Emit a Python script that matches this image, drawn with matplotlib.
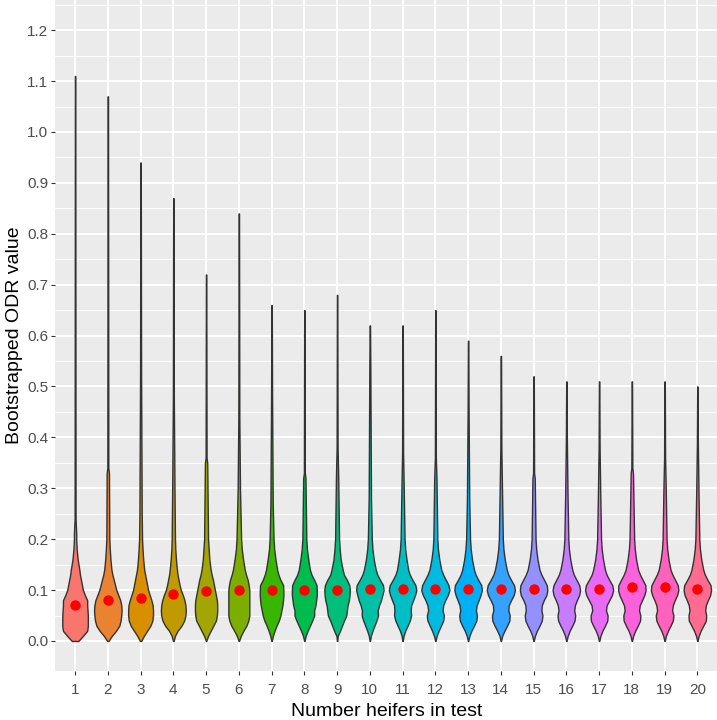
import numpy as np
import matplotlib
matplotlib.use("Agg")
import matplotlib.pyplot as plt

# Data
GROUPS = list(range(1, 21))
LEVELS = [0.00, 0.01, 0.02, 0.03, 0.04, 0.05, 0.06, 0.07, 0.08, 0.09,
          0.10, 0.11, 0.12, 0.13, 0.14, 0.16, 0.18, 0.20]

# violin half-widths (x units) at each LEVEL, one row per group
HALF_WIDTHS = [
    [0.10, 0.24, 0.37, 0.39, 0.39, 0.39, 0.38, 0.37, 0.37, 0.30, 0.24, 0.21, 0.18, 0.15, 0.13, 0.08, 0.05, 0.035],
    [0.02, 0.12, 0.25, 0.35, 0.39, 0.41, 0.42, 0.41, 0.38, 0.32, 0.26, 0.22, 0.18, 0.14, 0.11, 0.08, 0.06, 0.045],
    [0.02, 0.10, 0.20, 0.30, 0.36, 0.38, 0.38, 0.37, 0.33, 0.28, 0.23, 0.20, 0.17, 0.14, 0.11, 0.08, 0.06, 0.045],
    [0.01, 0.05, 0.13, 0.25, 0.33, 0.37, 0.38, 0.37, 0.34, 0.29, 0.23, 0.19, 0.16, 0.13, 0.11, 0.08, 0.06, 0.05],
    [0.005, 0.06, 0.14, 0.22, 0.30, 0.33, 0.34, 0.34, 0.33, 0.30, 0.27, 0.24, 0.21, 0.17, 0.14, 0.10, 0.08, 0.06],
    [0.005, 0.06, 0.14, 0.23, 0.29, 0.32, 0.32, 0.32, 0.32, 0.32, 0.32, 0.30, 0.27, 0.22, 0.18, 0.13, 0.09, 0.07],
    [0.005, 0.04, 0.09, 0.15, 0.22, 0.27, 0.30, 0.33, 0.35, 0.36, 0.36, 0.35, 0.27, 0.21, 0.17, 0.12, 0.08, 0.06],
    [0.005, 0.04, 0.10, 0.17, 0.24, 0.30, 0.30, 0.34, 0.36, 0.38, 0.38, 0.37, 0.30, 0.22, 0.17, 0.12, 0.08, 0.06],
    [0.005, 0.02, 0.09, 0.15, 0.21, 0.28, 0.30, 0.32, 0.36, 0.38, 0.39, 0.37, 0.30, 0.21, 0.17, 0.11, 0.08, 0.06],
    [0.005, 0.03, 0.08, 0.14, 0.20, 0.25, 0.24, 0.28, 0.34, 0.38, 0.42, 0.40, 0.31, 0.23, 0.18, 0.12, 0.08, 0.06],
    [0.005, 0.03, 0.08, 0.15, 0.22, 0.26, 0.25, 0.26, 0.32, 0.38, 0.42, 0.39, 0.30, 0.22, 0.17, 0.12, 0.08, 0.06],
    [0.005, 0.04, 0.10, 0.17, 0.24, 0.26, 0.22, 0.24, 0.30, 0.38, 0.43, 0.40, 0.32, 0.24, 0.18, 0.12, 0.08, 0.06],
    [0.005, 0.04, 0.10, 0.18, 0.25, 0.27, 0.24, 0.26, 0.32, 0.38, 0.42, 0.40, 0.31, 0.23, 0.18, 0.12, 0.08, 0.06],
    [0.005, 0.04, 0.11, 0.19, 0.26, 0.27, 0.23, 0.24, 0.31, 0.39, 0.43, 0.40, 0.31, 0.23, 0.18, 0.12, 0.08, 0.06],
    [0.005, 0.04, 0.10, 0.18, 0.25, 0.27, 0.24, 0.25, 0.31, 0.39, 0.42, 0.40, 0.32, 0.24, 0.18, 0.12, 0.08, 0.06],
    [0.005, 0.04, 0.10, 0.18, 0.25, 0.27, 0.24, 0.26, 0.32, 0.39, 0.42, 0.39, 0.31, 0.23, 0.18, 0.12, 0.08, 0.06],
    [0.005, 0.04, 0.10, 0.18, 0.25, 0.26, 0.21, 0.23, 0.31, 0.39, 0.43, 0.40, 0.31, 0.23, 0.18, 0.12, 0.08, 0.06],
    [0.005, 0.04, 0.10, 0.18, 0.25, 0.26, 0.22, 0.24, 0.31, 0.38, 0.42, 0.41, 0.33, 0.25, 0.19, 0.13, 0.09, 0.07],
    [0.005, 0.04, 0.10, 0.18, 0.25, 0.27, 0.23, 0.25, 0.31, 0.38, 0.42, 0.40, 0.32, 0.24, 0.18, 0.12, 0.08, 0.06],
    [0.005, 0.04, 0.10, 0.18, 0.26, 0.27, 0.24, 0.26, 0.32, 0.39, 0.42, 0.40, 0.31, 0.23, 0.18, 0.12, 0.08, 0.06],
]
# where the filled part ends, where the thicker tail ends, and the maximum value
COLOR_TOP = [0.21, 0.33, 0.25, 0.30, 0.35, 0.30, 0.27, 0.32, 0.32, 0.28,
             0.30, 0.32, 0.28, 0.30, 0.32, 0.29, 0.29, 0.33, 0.30, 0.29]
THICK_TOP = [0.24, 0.34, 0.53, 0.48, 0.36, 0.44, 0.48, 0.33, 0.38, 0.54,
             0.37, 0.36, 0.45, 0.38, 0.33, 0.40, 0.38, 0.34, 0.36, 0.39]
TAIL_TOP = [1.11, 1.07, 0.94, 0.87, 0.72, 0.84, 0.66, 0.65, 0.68, 0.62,
            0.62, 0.65, 0.59, 0.56, 0.52, 0.51, 0.51, 0.51, 0.51, 0.50]
MEANS = [0.071, 0.080, 0.085, 0.092, 0.098, 0.101, 0.101, 0.101, 0.101, 0.103,
         0.103, 0.103, 0.103, 0.103, 0.103, 0.103, 0.103, 0.106, 0.106, 0.103]

# ggplot2 default hue palette for 20 levels
COLORS = ["#F8766D", "#EA8331", "#D89000", "#C09B00", "#A3A500", "#7CAE00",
          "#39B600", "#00BB4E", "#00BF7D", "#00C1A3", "#00BFC4", "#00BAE0",
          "#00B0F6", "#35A2FF", "#9590FF", "#C77CFF", "#E76BF3", "#FA62DB",
          "#FF62BC", "#FF6C90"]

plt.rcParams['font.family'] = ['Liberation Sans', 'DejaVu Sans']

fig = plt.figure(figsize=(7.17, 7.2), dpi=100)
ax = fig.add_axes([0.0773, 0.0681, 0.9227, 0.9319])
ax.set_facecolor('#EBEBEB')

# grid
for v in np.arange(0.05, 1.26, 0.1):
    ax.axhline(v, color='white', lw=0.7, zorder=0)
for v in np.arange(0.0, 1.21, 0.1):
    ax.axhline(v, color='white', lw=1.4, zorder=0)
for g in GROUPS:
    ax.axvline(g, color='white', lw=1.4, zorder=0)

tail_w = [0.035, 0.015, 0.006]
for i, g in enumerate(GROUPS):
    ys = np.array(LEVELS + [COLOR_TOP[i], THICK_TOP[i], TAIL_TOP[i]])
    ws = np.array(HALF_WIDTHS[i] + tail_w)
    ax.fill_betweenx(ys, g - ws, g + ws, facecolor=COLORS[i],
                     edgecolor='#333333', lw=1.0, zorder=2)

ax.plot(GROUPS, MEANS, 'o', color='red', markersize=7.5, zorder=3,
        markeredgewidth=0)

ax.set_xlim(0.4, 20.6)
ax.set_ylim(-0.0589, 1.2593)
ax.set_xticks(GROUPS)
ax.set_xticklabels([str(g) for g in GROUPS])
ax.set_yticks(np.arange(0, 1.21, 0.1))
ax.set_yticklabels([f"{v:.1f}" for v in np.arange(0, 1.21, 0.1)])
ax.tick_params(axis='both', length=3, width=0.8, color='#333333',
               labelcolor='#4D4D4D', labelsize=11)
ax.tick_params(axis='x', pad=6)
ax.tick_params(axis='y', pad=2)
for s in ax.spines.values():
    s.set_visible(False)

ax.set_xlabel('Number heifers in test', fontsize=14, labelpad=4)
ax.set_ylabel('Bootstrapped ODR value', fontsize=14, labelpad=3)

fig.savefig('out.png', dpi=100, facecolor='white')
